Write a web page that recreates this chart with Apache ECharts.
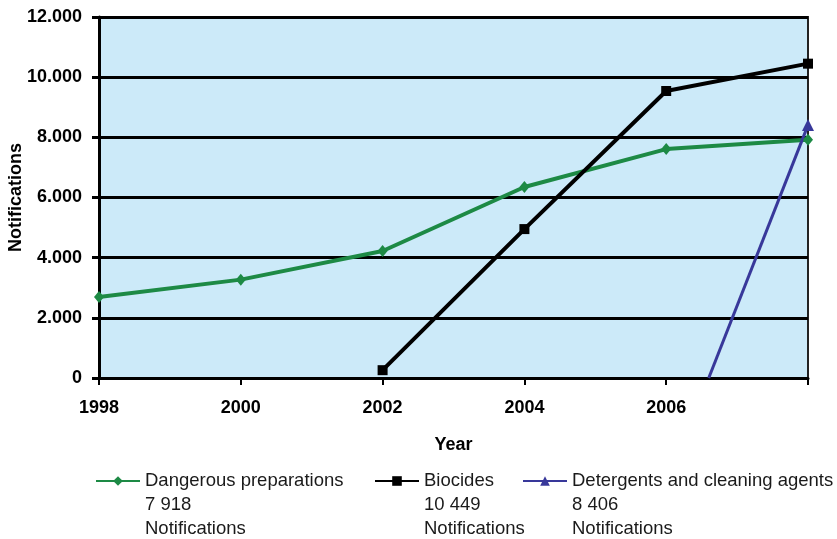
<!DOCTYPE html>
<html>
<head>
<meta charset="utf-8">
<script src="https://cdn.jsdelivr.net/npm/echarts@6/dist/echarts.min.js"></script>
<style>
  html, body { margin: 0; padding: 0; background: #ffffff; }
  #chart { width: 837px; height: 539px; }
</style>
</head>
<body>
<div id="chart"></div>
<script>
// Notifications per year for each product group
const years = [1998, 2000, 2002, 2004, 2006, 2008];
const dangerousPreparations = [2690, 3270, 4220, 6350, 7610, 7918];
const biocideYears = [2002, 2004, 2006, 2008];
const biocides = [260, 4950, 9540, 10449];
// Detergents: line rises from zero partway through 2006 to the 2008 total
const detergentYears = [2006.6, 2008];
const detergents = [0, 8406];
const yTicks = [0, 2000, 4000, 6000, 8000, 10000, 12000];

const seriesNames = ['Dangerous preparations', 'Biocides', 'Detergents and cleaning agents'];
const totals = {
  'Dangerous preparations': dangerousPreparations[dangerousPreparations.length - 1],
  'Biocides': biocides[biocides.length - 1],
  'Detergents and cleaning agents': detergents[detergents.length - 1]
};

const font = 'Liberation Sans, Arial, Helvetica, sans-serif';
const fmtDot = v => String(v).replace(/\B(?=(\d{3})+(?!\d))/g, '.');
const fmtSpace = v => String(v).replace(/\B(?=(\d{3})+(?!\d))/g, ' ');

const legendText = { fontFamily: font, fontSize: 18.5, color: '#1a1a1a', lineHeight: 24 };
// Two blank lines first so the series name sits level with the legend marker
function makeLegend(name, left) {
  return {
    data: [name], left: left, top: 421, padding: 0,
    itemWidth: 44, itemHeight: 12, itemGap: 5,
    textStyle: legendText,
    formatter: n => '\n\n' + n + '\n' + fmtSpace(totals[n]) + '\nNotifications'
  };
}

const chart = echarts.init(document.getElementById('chart'), null, { renderer: 'canvas' });
chart.setOption({
  animation: false,
  backgroundColor: '#ffffff',
  grid: {
    left: 99, right: 29, top: 17, bottom: 161,
    containLabel: false, outerBoundsMode: 'none',
    show: true, backgroundColor: '#CCEAF9', borderColor: '#222222', borderWidth: 2
  },
  legend: [
    makeLegend(seriesNames[0], 95),
    makeLegend(seriesNames[1], 374),
    makeLegend(seriesNames[2], 522)
  ],
  xAxis: {
    type: 'value', min: 1998, max: 2008, interval: 2,
    name: 'Year', nameLocation: 'middle', nameGap: 58, nameMoveOverlap: false,
    nameTextStyle: { fontFamily: font, fontSize: 18, fontWeight: 'bold', color: '#000' },
    axisLine: { show: true, lineStyle: { color: '#000', width: 3 } },
    axisTick: { show: true, length: 7, lineStyle: { color: '#000', width: 2 } },
    axisLabel: {
      margin: 21, fontFamily: font, fontSize: 18, fontWeight: 'bold', color: '#000',
      formatter: v => (v === 2008 ? '' : String(v))
    },
    splitLine: { show: false }
  },
  yAxis: {
    type: 'value', min: yTicks[0], max: yTicks[yTicks.length - 1], interval: yTicks[1] - yTicks[0],
    name: 'Notifications', nameLocation: 'middle', nameGap: 74, nameMoveOverlap: false,
    nameTextStyle: { fontFamily: font, fontSize: 18, fontWeight: 'bold', color: '#000' },
    axisLine: { show: true, lineStyle: { color: '#000', width: 3 } },
    axisTick: { show: true, length: 7, lineStyle: { color: '#000', width: 3 } },
    axisLabel: {
      margin: 17, fontFamily: font, fontSize: 18, fontWeight: 'bold', color: '#000',
      formatter: v => fmtDot(v)
    },
    splitLine: { show: true, lineStyle: { color: '#000', width: 3 } }
  },
  series: [
    {
      name: seriesNames[0], type: 'line',
      data: years.map((y, i) => [y, dangerousPreparations[i]]),
      symbol: 'diamond', symbolSize: [10, 12],
      lineStyle: { color: '#1D8A45', width: 4 },
      itemStyle: { color: '#1D8A45' }
    },
    {
      name: seriesNames[1], type: 'line',
      data: biocideYears.map((y, i) => [y, biocides[i]]),
      symbol: 'rect', symbolSize: 10,
      lineStyle: { color: '#000000', width: 4 },
      itemStyle: { color: '#000000' }
    },
    {
      name: seriesNames[2], type: 'line',
      data: detergentYears.map((y, i) => ({
        value: [y, detergents[i]],
        symbol: i === detergentYears.length - 1 ? 'triangle' : 'none'
      })),
      symbol: 'triangle', symbolSize: 12, showAllSymbol: true,
      lineStyle: { color: '#38389A', width: 3 },
      itemStyle: { color: '#38389A' }
    }
  ]
});
</script>
</body>
</html>
